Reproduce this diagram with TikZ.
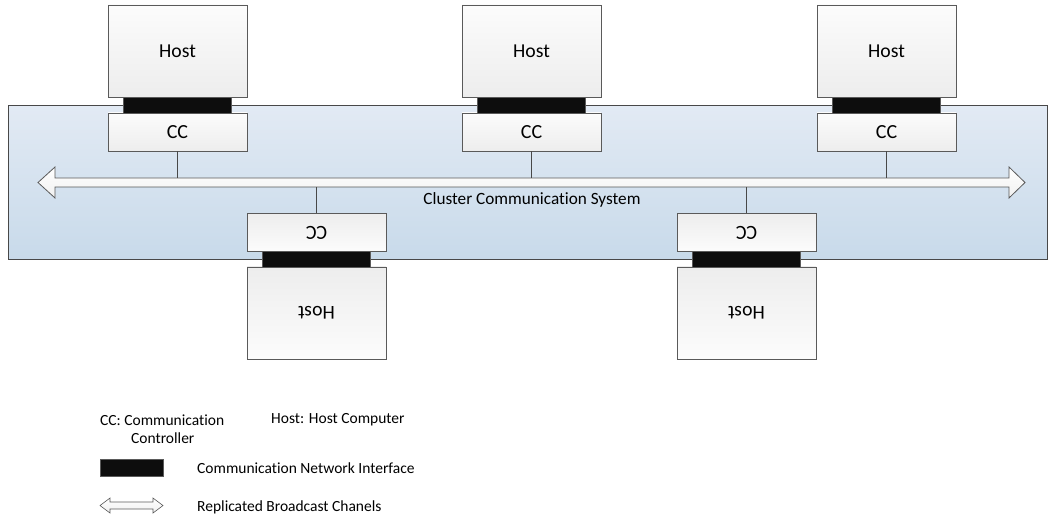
\documentclass[tikz,border=0pt]{standalone}
\usepackage{fontspec}
\setmainfont{Carlito}[Ligatures={NoCommon}]
\usetikzlibrary{calc}
\definecolor{boxline}{HTML}{5A5A5A}
\definecolor{bandtop}{HTML}{E2EAF4}
\definecolor{bandbot}{HTML}{C8DAEA}
\definecolor{boxtop}{HTML}{FCFCFC}
\definecolor{boxbot}{HTML}{EDEDED}
\definecolor{nifill}{HTML}{0D0D0D}
\tikzset{
  hostbox/.style={draw=boxline, line width=0.9pt, top color=boxtop, bottom color=boxbot,
    minimum width=139pt, minimum height=92pt, inner sep=0pt, font=\fontsize{19.7}{23}\selectfont},
  hostboxr/.style={hostbox, top color=boxbot, bottom color=boxtop},
  ccbox/.style={draw=boxline, line width=0.9pt, top color=boxtop, bottom color=boxbot,
    minimum width=139pt, minimum height=38pt, inner sep=0pt, font=\fontsize{20}{23}\selectfont},
  ccboxr/.style={ccbox, top color=boxbot, bottom color=boxtop},
  nibox/.style={draw=boxline, line width=0.6pt, fill=nifill, minimum width=108pt, minimum height=16pt, inner sep=0pt},
  conn/.style={draw=boxline!80!black, line width=1.8pt},
  legtext/.style={anchor=west, inner sep=0pt, font=\fontsize{15.5}{18}\selectfont},
  arrowshape/.style={draw=boxline, line width=0.8pt, top color=white, bottom color=boxbot!80!white},
}
\begin{document}
\begin{tikzpicture}[x=1pt,y=-1pt]
\useasboundingbox (0,0) rectangle (1048,518);
% band
\node[draw=boxline!80!black, line width=0.9pt, top color=bandtop, bottom color=bandbot,
  minimum width=1039pt, minimum height=154pt, inner sep=0pt, anchor=north west] (band) at (8,105) {};
% bus arrow
\coordinate (busL) at (38,182.5);
\coordinate (busR) at (1025,182.5);
\path[arrowshape] (busL) -- (55,167) -- (55,178) -- (1009,178) -- (1009,167) -- (busR)
  -- (1009,198) -- (1009,187) -- (55,187) -- (55,198) -- cycle;
\coordinate (bustop) at (531,178);
\coordinate (busbot) at (531,187);
\node[inner sep=0pt, font=\fontsize{17.2}{20}\selectfont] (cclabel) at (532,200) {Cluster Communication System};
% top stations
\foreach \i/\x in {1/177.5, 2/531.5, 3/886.5}{
  \node[hostbox] (host\i) at (\x,51) {Host};
  \node[ccbox] (cc\i) at (\x,132) {CC};
  \node[nibox] (ni\i) at (\x,105) {};
  \draw[conn] (cc\i.south) -- (cc\i.south |- bustop);
}
% bottom stations
\foreach \i/\x in {4/316.5, 5/746.5}{
  \node[hostboxr] (host\i) at (\x,313) {\rotatebox{180}{Host}};
  \node[ccboxr] (cc\i) at (\x,232.5) {\rotatebox{180}{CC}};
  \node[nibox] (ni\i) at (\x,259.5) {};
  \draw[conn] (cc\i.north) -- (cc\i.north |- busbot);
}
% legend
\node[legtext, align=left] (legcc) at (100,429) {CC: Communication\\\hspace*{31pt}Controller};
\node[legtext] (leghost) at (271,420) {Host: Host Computer};
\node[nibox, minimum width=63pt, minimum height=17pt, anchor=west] (legni) at (100,467.5) {};
\node[legtext] (legnitext) at (197,468) {Communication Network Interface};
\path[arrowshape, line width=0.6pt] (100,505.5) -- (110,498) -- (110,502) -- (153,502) -- (153,498) -- (163,505.5)
  -- (153,513) -- (153,509) -- (110,509) -- (110,513) -- cycle;
\node[legtext] (legbus) at (197,507) {Replicated Broadcast Chanels};
\end{tikzpicture}
\end{document}
